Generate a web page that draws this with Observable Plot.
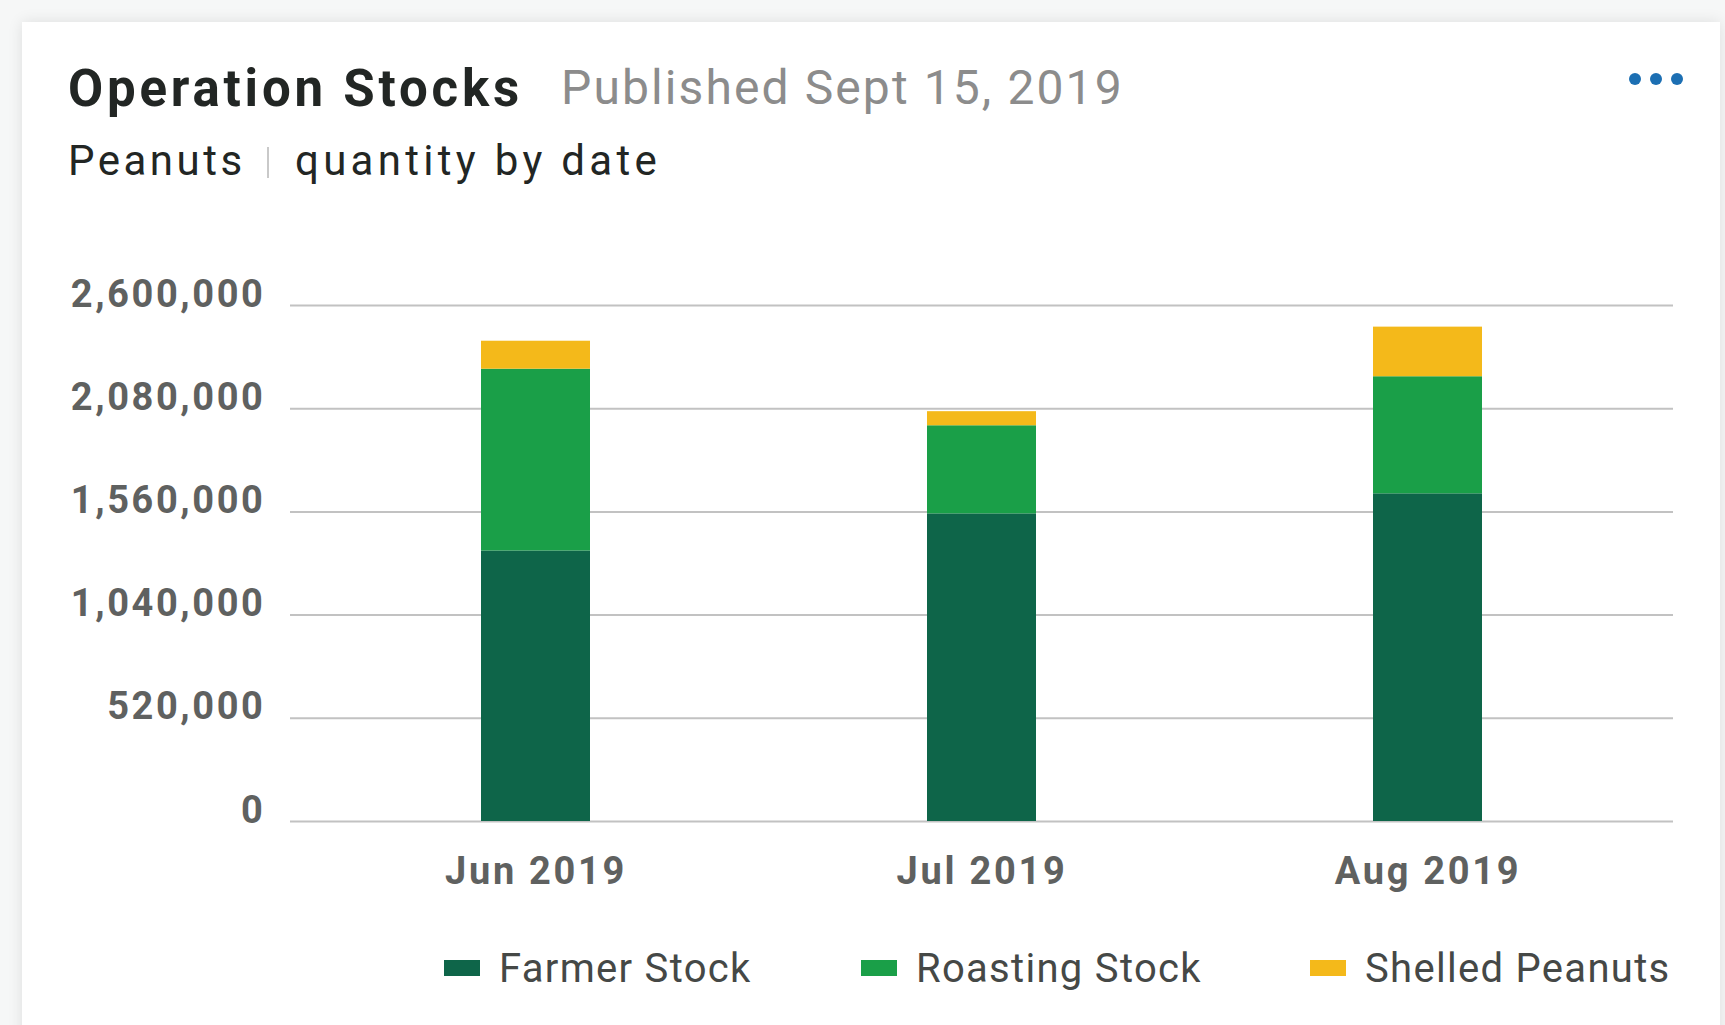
<!DOCTYPE html>
<html>
<head>
<meta charset="utf-8">
<script src="https://cdn.jsdelivr.net/npm/d3@7"></script>
<script src="https://cdn.jsdelivr.net/npm/@observablehq/plot@0.6"></script>
<style>
  html, body { margin: 0; padding: 0; }
  body { width: 1725px; height: 1025px; background: #f6f7f7; position: relative; overflow: hidden; font-family: Roboto, "Noto Sans", sans-serif; }
  #card { position: absolute; left: 22px; top: 22px; width: 1698px; height: 1100px; background: #fff; box-shadow: 0 0 14px rgba(0,0,0,0.10); }
  .abs { position: absolute; white-space: nowrap; line-height: 1; }
  #title { left: 68px; top: 63px; font-size: 51px; font-weight: 700; color: #222624; letter-spacing: 3.8px; }
  #pub { left: 561px; top: 64px; font-size: 48px; font-weight: 400; color: #8c8c8c; letter-spacing: 2.1px; }
  #sub { left: 68px; top: 140px; font-size: 42px; color: #222624; letter-spacing: 3.5px; }
  #sep { position: absolute; left: 267px; top: 147px; width: 2px; height: 31px; background: #c9c9c9; }
  #sub2 { left: 295px; top: 140px; font-size: 42px; color: #222624; letter-spacing: 4.3px; }
  #dots { position: absolute; left: 1620px; top: 66px; }
  #chart { position: absolute; left: 0; top: 250px; }
  #chart g[aria-label="y-axis tick label"] { letter-spacing: 2.6px; }
  #chart g[aria-label="x-axis tick label"] { letter-spacing: 2.7px; }
  .leg-sw { position: absolute; width: 36px; height: 16px; }
  .leg-tx { font-size: 40px; color: #454846; letter-spacing: 1.3px; }
</style>
</head>
<body>
<div id="card"></div>
<div class="abs" id="title">Operation Stocks</div>
<div class="abs" id="pub">Published Sept 15, 2019</div>
<div class="abs" id="sub">Peanuts</div>
<div id="sep"></div>
<div class="abs" id="sub2">quantity by date</div>
<svg id="dots" width="70" height="26"><circle cx="15" cy="13" r="6" fill="#1c6fb3"/><circle cx="36" cy="13" r="6" fill="#1c6fb3"/><circle cx="57" cy="13" r="6" fill="#1c6fb3"/></svg>
<div id="chart"></div>
<div id="legend"></div>
<script>
const months = ["Jun 2019", "Jul 2019", "Aug 2019"];
const seriesNames = ["Farmer Stock", "Roasting Stock", "Shelled Peanuts"];
const seriesColors = ["#0e6549", "#1a9f48", "#f4b91a"];
const farmerStock = [1363000, 1550000, 1651000];
const roastingStock = [916000, 444000, 590000];
const shelledPeanuts = [141000, 71000, 250000];
const yTicks = [0, 520000, 1040000, 1560000, 2080000, 2600000];

const seriesValues = [farmerStock, roastingStock, shelledPeanuts];
const rows = [];
seriesNames.forEach((s, i) => months.forEach((m, j) => rows.push({month: m, series: s, value: seriesValues[i][j]})));

const plot = Plot.plot({
  width: 1725,
  height: 650,
  marginLeft: 290,
  marginRight: 52,
  marginTop: 55,
  marginBottom: 79,
  style: {fontFamily: "Roboto, sans-serif", background: "transparent", overflow: "visible"},
  x: {domain: months, paddingInner: 0.756, paddingOuter: 0.4265, label: null},
  y: {domain: [0, 2600000], label: null},
  color: {domain: seriesNames, range: seriesColors},
  marks: [
    Plot.ruleY(yTicks, {stroke: "#c2c2c2", strokeWidth: 2}),
    Plot.barY(rows, {x: "month", y: "value", fill: "series", order: seriesNames}),
    Plot.axisY(yTicks, {tickSize: 0, tickPadding: 25, tickFormat: d3.format(","), fontSize: 38, fontWeight: 700, fill: "#5f6160", dy: -11}),
    Plot.axisX({tickSize: 0, tickPadding: 36, fontSize: 38, fontWeight: 700, fill: "#5f6160", dx: 0})
  ]
});
document.getElementById("chart").appendChild(plot);

const legendX = [444, 861, 1310];
const leg = document.getElementById("legend");
seriesNames.forEach((s, i) => {
  const sw = document.createElement("div");
  sw.className = "leg-sw";
  sw.style.left = legendX[i] + "px";
  sw.style.top = "960px";
  sw.style.background = seriesColors[i];
  leg.appendChild(sw);
  const tx = document.createElement("div");
  tx.className = "abs leg-tx";
  tx.style.left = (legendX[i] + 55) + "px";
  tx.style.top = "949px";
  tx.textContent = s;
  leg.appendChild(tx);
});
</script>
</body>
</html>
